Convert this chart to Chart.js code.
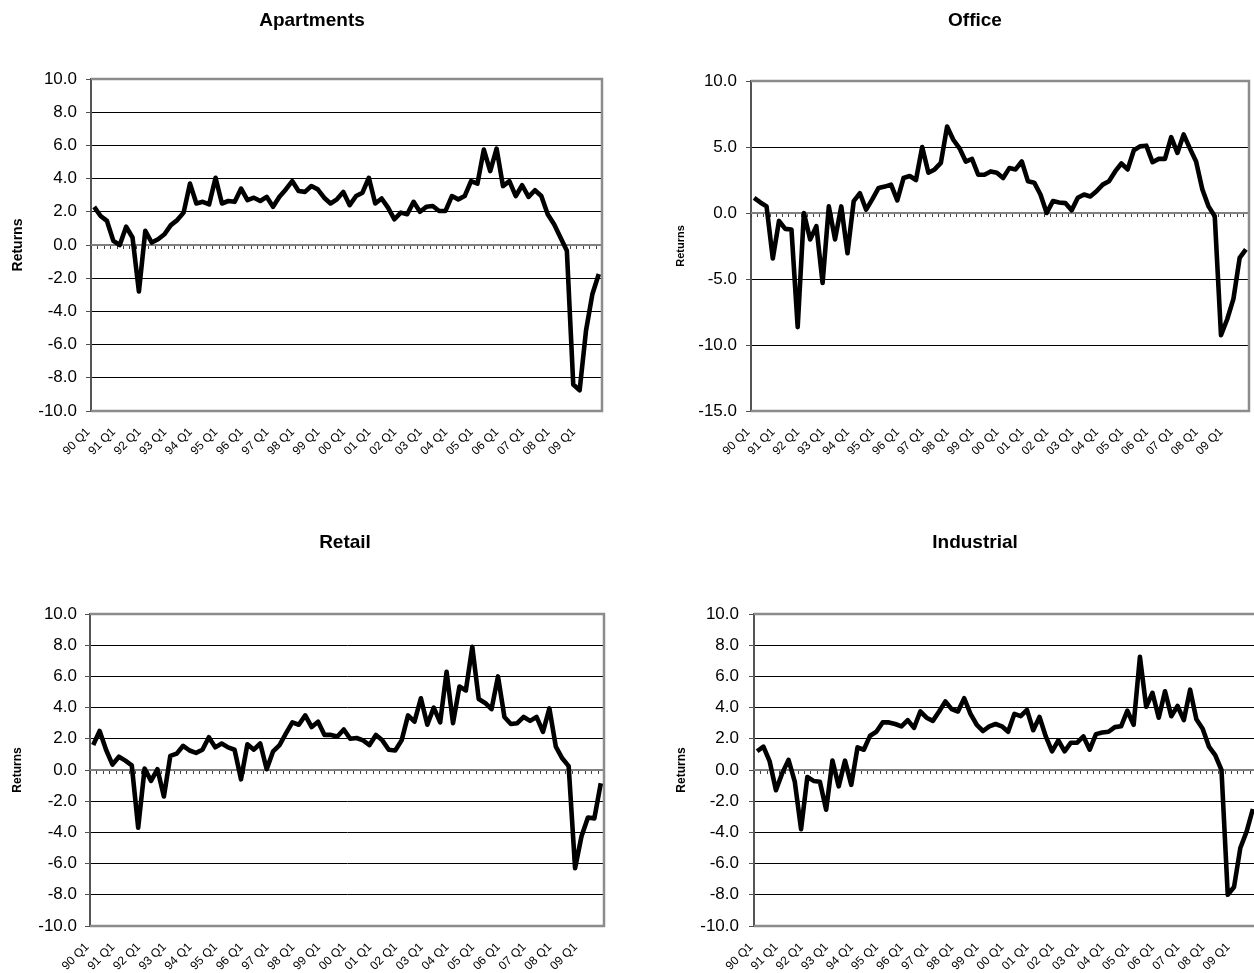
<!DOCTYPE html>
<html>
<head>
<meta charset="utf-8">
<title>Quarterly returns by property type</title>
<script src="https://cdn.jsdelivr.net/npm/chart.js@4.4.1/dist/chart.umd.min.js"></script>
<style>
  html, body { margin: 0; padding: 0; background: #fff; overflow: hidden; width: 1254px; height: 973px; position: relative; }
  .panel { position: absolute; }
</style>
</head>
<body>
<div class="panel" style="left:0;top:0"><canvas id="apartments" width="624" height="470"></canvas></div>
<div class="panel" style="left:640px;top:0"><canvas id="office" width="670" height="470"></canvas></div>
<div class="panel" style="left:0;top:522px"><canvas id="retail" width="690" height="451"></canvas></div>
<div class="panel" style="left:640px;top:522px"><canvas id="industrial" width="670" height="451"></canvas></div>

<script>
// tick labels shown on the x axis (one per year)
const tickLabels = ['90 Q1', '91 Q1', '92 Q1', '93 Q1', '94 Q1', '95 Q1', '96 Q1', '97 Q1', '98 Q1', '99 Q1',
  '00 Q1', '01 Q1', '02 Q1', '03 Q1', '04 Q1', '05 Q1', '06 Q1', '07 Q1', '08 Q1', '09 Q1'];

// every quarter is a category, 90 Q1 .. 09 Q4
const quarters = [];
tickLabels.forEach(t => {
  const yy = t.slice(0, 2);
  ['Q1', 'Q2', 'Q3', 'Q4'].forEach(q => quarters.push(yy + ' ' + q));
});

// quarterly returns (%)
const apartments = [2.3, 1.75, 1.45, 0.25, 0.0, 1.1, 0.45, -2.8, 0.85, 0.15,
  0.35, 0.65, 1.2, 1.5, 1.95, 3.7, 2.5, 2.6, 2.45, 4.05,
  2.5, 2.65, 2.6, 3.4, 2.7, 2.85, 2.65, 2.9, 2.3, 2.9,
  3.35, 3.85, 3.25, 3.2, 3.55, 3.35, 2.85, 2.5, 2.75, 3.2,
  2.4, 2.95, 3.15, 4.05, 2.5, 2.8, 2.25, 1.55, 1.95, 1.85,
  2.6, 2.0, 2.3, 2.35, 2.05, 2.05, 2.95, 2.75, 2.95, 3.85,
  3.7, 5.75, 4.45, 5.8, 3.55, 3.85, 2.95, 3.6, 2.9, 3.3,
  2.95, 1.85, 1.25, 0.45, -0.35, -8.4, -8.75, -5.15, -2.95, -1.75];

const office = [1.15, 0.8, 0.5, -3.45, -0.6, -1.2, -1.25, -8.65, 0.0, -2.0,
  -1.0, -5.3, 0.5, -2.0, 0.5, -3.05, 0.9, 1.5, 0.25, 1.05,
  1.9, 2.0, 2.15, 0.95, 2.65, 2.8, 2.5, 5.0, 3.05, 3.3,
  3.8, 6.55, 5.55, 4.9, 3.9, 4.1, 2.9, 2.9, 3.15, 3.05,
  2.65, 3.4, 3.3, 3.9, 2.4, 2.3, 1.4, 0.0, 0.9, 0.8,
  0.75, 0.2, 1.15, 1.4, 1.25, 1.65, 2.15, 2.4, 3.15, 3.75,
  3.3, 4.75, 5.05, 5.1, 3.85, 4.1, 4.1, 5.75, 4.55, 5.95,
  4.9, 3.9, 1.8, 0.5, -0.25, -9.25, -8.05, -6.5, -3.4, -2.75];

const retail = [1.6, 2.5, 1.3, 0.35, 0.85, 0.6, 0.3, -3.7, 0.1, -0.7,
  0.05, -1.7, 0.9, 1.05, 1.55, 1.25, 1.1, 1.3, 2.1, 1.45,
  1.7, 1.45, 1.3, -0.6, 1.65, 1.3, 1.7, 0.05, 1.2, 1.6,
  2.35, 3.05, 2.9, 3.5, 2.75, 3.1, 2.25, 2.25, 2.15, 2.6,
  2.0, 2.05, 1.9, 1.6, 2.25, 1.9, 1.3, 1.25, 1.9, 3.5,
  3.1, 4.6, 2.9, 4.0, 3.05, 6.3, 3.0, 5.35, 5.1, 7.9,
  4.55, 4.3, 3.9, 6.0, 3.4, 2.95, 3.0, 3.4, 3.15, 3.4,
  2.45, 3.95, 1.5, 0.75, 0.25, -6.3, -4.25, -3.05, -3.1, -0.85];

const industrial = [1.2, 1.5, 0.55, -1.3, -0.2, 0.65, -0.75, -3.8, -0.45, -0.7,
  -0.75, -2.55, 0.6, -1.05, 0.6, -0.95, 1.45, 1.3, 2.2, 2.45,
  3.05, 3.05, 2.95, 2.8, 3.2, 2.7, 3.75, 3.35, 3.15, 3.75,
  4.4, 3.9, 3.75, 4.6, 3.6, 2.9, 2.5, 2.8, 2.95, 2.8,
  2.45, 3.6, 3.45, 3.85, 2.55, 3.4, 2.15, 1.2, 1.9, 1.2,
  1.75, 1.75, 2.15, 1.3, 2.3, 2.4, 2.45, 2.75, 2.8, 3.8,
  2.9, 7.25, 4.05, 4.95, 3.35, 5.05, 3.45, 4.1, 3.2, 5.15,
  3.25, 2.65, 1.5, 0.95, 0.0, -8.0, -7.5, -5.0, -3.95, -2.5];

const FONT = "'Liberation Sans', Arial, sans-serif";

// zero axis with a tick at every quarter, plus the grey plot frame
const frame = {
  id: 'frame',
  beforeDatasetsDraw(chart) {
    const { ctx, chartArea: a, scales: { y } } = chart;
    const y0 = Math.round(y.getPixelForValue(0));
    const n = chart.data.labels.length;
    const step = (a.right - a.left) / n;
    ctx.save();
    ctx.strokeStyle = '#404040';
    ctx.lineWidth = 1;
    ctx.beginPath();
    for (let k = 0; k <= n; k++) {
      const px = Math.round(a.left + k * step) + 0.5;
      ctx.moveTo(px, y0);
      ctx.lineTo(px, y0 + 4);
    }
    ctx.stroke();
    ctx.strokeStyle = '#808080';
    ctx.lineWidth = 2;
    ctx.beginPath();
    ctx.moveTo(a.left, y0);
    ctx.lineTo(a.right, y0);
    ctx.stroke();
    ctx.strokeStyle = '#8c8c8c';
    ctx.lineWidth = 2.5;
    ctx.beginPath();
    ctx.moveTo(a.left, a.top);
    ctx.lineTo(a.right, a.top);
    ctx.lineTo(a.right, a.bottom);
    ctx.lineTo(a.left, a.bottom);
    ctx.stroke();
    ctx.restore();
  }
};

function makeChart(id, title, values, yMin, yMax, yStep, box) {
  new Chart(document.getElementById(id), {
    type: 'line',
    data: {
      labels: quarters,
      datasets: [{
        data: values,
        borderColor: '#000',
        borderWidth: 4.6,
        pointRadius: 0,
        tension: 0,
        fill: false,
        borderJoinStyle: 'round'
      }]
    },
    options: {
      responsive: false,
      animation: false,
      devicePixelRatio: 1,
      layout: { padding: 0 },
      plugins: {
        legend: { display: false },
        tooltip: { enabled: false },
        title: {
          display: true,
          text: title,
          color: '#000',
          font: { family: FONT, size: 19, weight: 'bold' },
          padding: { top: 9.6, bottom: box.titleGap }
        }
      },
      scales: {
        x: {
          type: 'category',
          offset: true,
          grid: { display: false, drawTicks: false },
          border: { display: false },
          ticks: {
            autoSkip: false,
            maxRotation: 45,
            minRotation: 45,
            padding: 14,
            labelOffset: -6,
            color: '#000',
            font: { family: FONT, size: 12 },
            callback: (v, i) => tickLabels.includes(quarters[i]) ? quarters[i] : ''
          },
          afterFit: s => { s.height = box.xHeight; }
        },
        y: {
          min: yMin,
          max: yMax,
          ticks: {
            stepSize: yStep,
            padding: box.tickPad,
            color: '#000',
            font: { family: FONT, size: 17 },
            callback: v => v.toFixed(1)
          },
          grid: {
            color: c => c.tick && c.tick.value === 0 ? 'rgba(0,0,0,0)' : '#000',
            lineWidth: 1,
            drawTicks: true,
            tickLength: 5,
            tickColor: '#505050'
          },
          border: { display: true, color: '#555', width: 2 },
          title: {
            display: true,
            text: 'Returns',
            color: '#000',
            font: { family: FONT, size: box.yTitleSize, weight: 'bold' },
            padding: { top: box.yTitlePad, bottom: 0 }
          },
          afterFit: s => { s.width = box.axisWidth; }
        },
        // empty right-hand margin, so the title centres over the whole chart
        margin: {
          axis: 'y',
          position: 'right',
          grid: { display: false, drawTicks: false },
          border: { display: false },
          ticks: { display: false },
          afterFit: s => { s.width = box.rightMargin; }
        }
      }
    },
    plugins: [frame]
  });
}

makeChart('apartments', 'Apartments', apartments, -10, 10, 2,
  { axisWidth: 91, rightMargin: 22, xHeight: 59, titleGap: 46.6, tickPad: 9, yTitleSize: 14, yTitlePad: 9.9 });
makeChart('office', 'Office', office, -15, 10, 5,
  { axisWidth: 111, rightMargin: 61, xHeight: 59, titleGap: 48.6, tickPad: 9, yTitleSize: 11, yTitlePad: 34 });
makeChart('retail', 'Retail', retail, -10, 10, 2,
  { axisWidth: 90, rightMargin: 86, xHeight: 47, titleGap: 59.6, tickPad: 8, yTitleSize: 12, yTitlePad: 10.8 });
makeChart('industrial', 'Industrial', industrial, -10, 10, 2,
  { axisWidth: 114, rightMargin: 54, xHeight: 47, titleGap: 59.6, tickPad: 10, yTitleSize: 12, yTitlePad: 34.8 });
</script>
</body>
</html>
